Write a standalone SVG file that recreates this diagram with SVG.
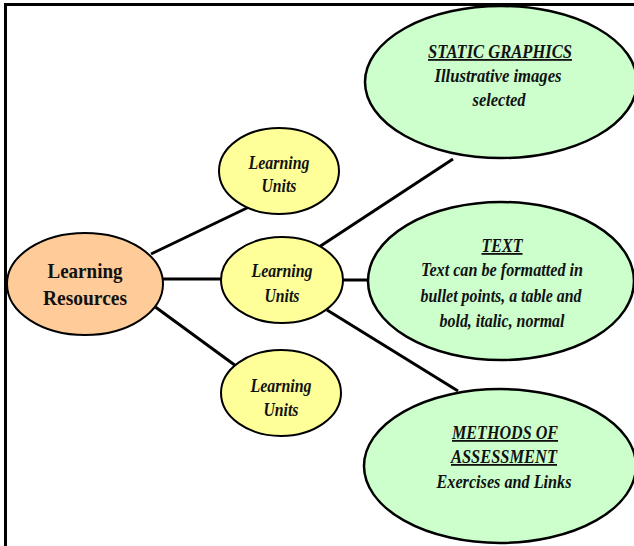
<svg xmlns="http://www.w3.org/2000/svg" width="634" height="546" viewBox="0 0 634 546">
<style>
.frame{stroke:#000;stroke-width:3;fill:none}
.conn line{stroke:#000;stroke-width:3}
.peach{fill:#FFCC99;stroke:#000;stroke-width:2}
.yellow{fill:#FFFF99;stroke:#000;stroke-width:2}
.green{fill:#CCFFCC;stroke:#000;stroke-width:2.5}
text{font-family:"Liberation Serif","Times New Roman",serif;font-weight:bold;fill:#111;text-anchor:middle}
.it{font-style:italic;font-size:18px}
.lr{font-size:22px}
.u{text-decoration:underline}
</style>
<rect width="634" height="546" fill="#fff"/>
<path class="frame" d="M5.5,546 V4.5 H634"/>
<g id="connectors" class="conn">
<line x1="151" y1="254" x2="249" y2="207"/>
<line x1="162" y1="279" x2="222" y2="279"/>
<line x1="154" y1="306" x2="236" y2="366"/>
<line x1="319" y1="247" x2="453" y2="159"/>
<line x1="342" y1="280" x2="370" y2="280"/>
<line x1="327" y1="310" x2="458" y2="391"/>
</g>
<g id="learning-resources">
<ellipse class="peach" cx="85" cy="284" rx="78" ry="51"/>
<text class="lr" x="85" y="278" textLength="75" lengthAdjust="spacingAndGlyphs">Learning</text>
<text class="lr" x="85" y="305" textLength="84" lengthAdjust="spacingAndGlyphs">Resources</text>
</g>
<g id="unit-top">
<ellipse class="yellow" cx="279" cy="171" rx="60" ry="43"/>
<text class="it" x="279" y="169" textLength="61" lengthAdjust="spacingAndGlyphs">Learning</text>
<text class="it" x="279" y="192" textLength="35" lengthAdjust="spacingAndGlyphs">Units</text>
</g>
<g id="unit-middle">
<ellipse class="yellow" cx="282" cy="280" rx="61" ry="43"/>
<text class="it" x="282" y="277" textLength="61" lengthAdjust="spacingAndGlyphs">Learning</text>
<text class="it" x="282" y="302" textLength="35" lengthAdjust="spacingAndGlyphs">Units</text>
</g>
<g id="unit-bottom">
<ellipse class="yellow" cx="281" cy="393" rx="60" ry="43"/>
<text class="it" x="281" y="392" textLength="61" lengthAdjust="spacingAndGlyphs">Learning</text>
<text class="it" x="281" y="416" textLength="35" lengthAdjust="spacingAndGlyphs">Units</text>
</g>
<g id="static-graphics">
<ellipse class="green" cx="501" cy="82" rx="136" ry="76"/>
<text class="it u" x="500" y="58" textLength="144" lengthAdjust="spacingAndGlyphs">STATIC GRAPHICS</text>
<text class="it" x="498" y="82" textLength="127" lengthAdjust="spacingAndGlyphs">Illustrative images</text>
<text class="it" x="499" y="106" textLength="53" lengthAdjust="spacingAndGlyphs">selected</text>
</g>
<g id="text-node">
<ellipse class="green" cx="501" cy="281" rx="133" ry="79"/>
<text class="it u" x="502" y="252" textLength="41" lengthAdjust="spacingAndGlyphs">TEXT</text>
<text class="it" x="502" y="276" textLength="162" lengthAdjust="spacingAndGlyphs">Text can be formatted in</text>
<text class="it" x="501" y="302" textLength="161" lengthAdjust="spacingAndGlyphs">bullet points, a table and</text>
<text class="it" x="502" y="327" textLength="125" lengthAdjust="spacingAndGlyphs">bold, italic, normal</text>
</g>
<g id="assessment">
<ellipse class="green" cx="500" cy="466" rx="136" ry="77"/>
<text class="it u" x="505" y="439" textLength="106" lengthAdjust="spacingAndGlyphs">METHODS OF</text>
<text class="it u" x="504" y="463" textLength="106" lengthAdjust="spacingAndGlyphs">ASSESSMENT</text>
<text class="it" x="504" y="488" textLength="135" lengthAdjust="spacingAndGlyphs">Exercises and Links</text>
</g>
</svg>
